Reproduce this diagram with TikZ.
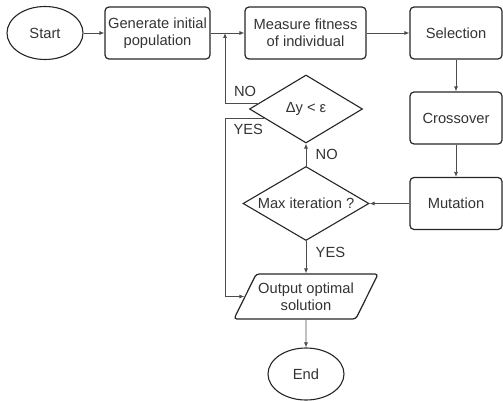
\documentclass[tikz,border=0pt]{standalone}
\usepackage{fontspec}
\setmainfont{Liberation Sans}
\usetikzlibrary{shapes.geometric}
\usetikzlibrary{arrows.meta}

\begin{document}
\begin{tikzpicture}[x=1pt, y=-1pt,
    every node/.style={font=\fontsize{14.7}{17}\selectfont, text=black!80},
    box/.style={draw=black!85, line width=1.2pt, rounded corners=4pt,
      minimum height=52pt, align=center, inner sep=2pt},
    term/.style={ellipse, draw=black!85, line width=1.1pt,
      minimum width=76pt, minimum height=53pt, inner sep=0pt},
    test/.style={diamond, draw=black!85, line width=1.1pt, aspect=1.7,
      inner sep=1pt},
    io/.style={trapezium, trapezium left angle=55, trapezium right angle=125,
      trapezium stretches body, draw=black!85, line width=1.2pt,
      rounded corners=3pt, minimum width=138pt, minimum height=45pt,
      align=center, inner sep=2pt},
    arr/.style={-{Latex[length=5pt,width=4pt]}, draw=black!70, line width=0.8pt}]

    \useasboundingbox (0,0) rectangle (503,401);

    \node[term] (start) at (45,33) {Start};
    \node[box, minimum width=105pt] (gen) at (157.5,33) {Generate initial\\population};
    \node[box, minimum width=121pt] (meas) at (305.5,33) {Measure fitness\\of individual};
    \node[box, minimum width=92pt] (sel) at (456,33) {Selection};
    \node[box, minimum width=92pt] (cross) at (456,118) {Crossover};
    \node[box, minimum width=92pt] (mut) at (456,203.5) {Mutation};

    \node[test, minimum width=113pt, minimum height=68pt] (dy) at (306,109) {Δy < ε};
    \node[test, minimum width=126pt, minimum height=74pt] (maxit) at (306,203.5) {Max iteration ?};
    \node[io] (out) at (306,296.5) {Output optimal\\solution};
    \node[term, minimum height=52pt] (end) at (306,374) {End};
    \coordinate (loop) at (225,33);

    \draw[arr] (start) -- (gen);
    \draw[arr] (gen) -- (meas);
    \draw[arr] (meas) -- (sel);
    \draw[arr] (sel) -- (cross);
    \draw[arr] (cross) -- (mut);
    \draw[arr] (mut) -- (maxit);
    \draw[arr] (maxit) -- node[right=6pt]{NO} (dy);
    \draw[arr] (maxit) -- node[pos=0.35, right=6pt]{YES} (out);
    \draw[arr] (out) -- (end);

    \draw[arr] (dy.173) -| node[pos=0.2, above=3pt]{NO} (loop);
    \draw[arr] (dy.192) -| node[pos=0.2, below=3pt]{YES} (loop |- out.west) -- (out.west);

  \end{tikzpicture}
\end{document}
